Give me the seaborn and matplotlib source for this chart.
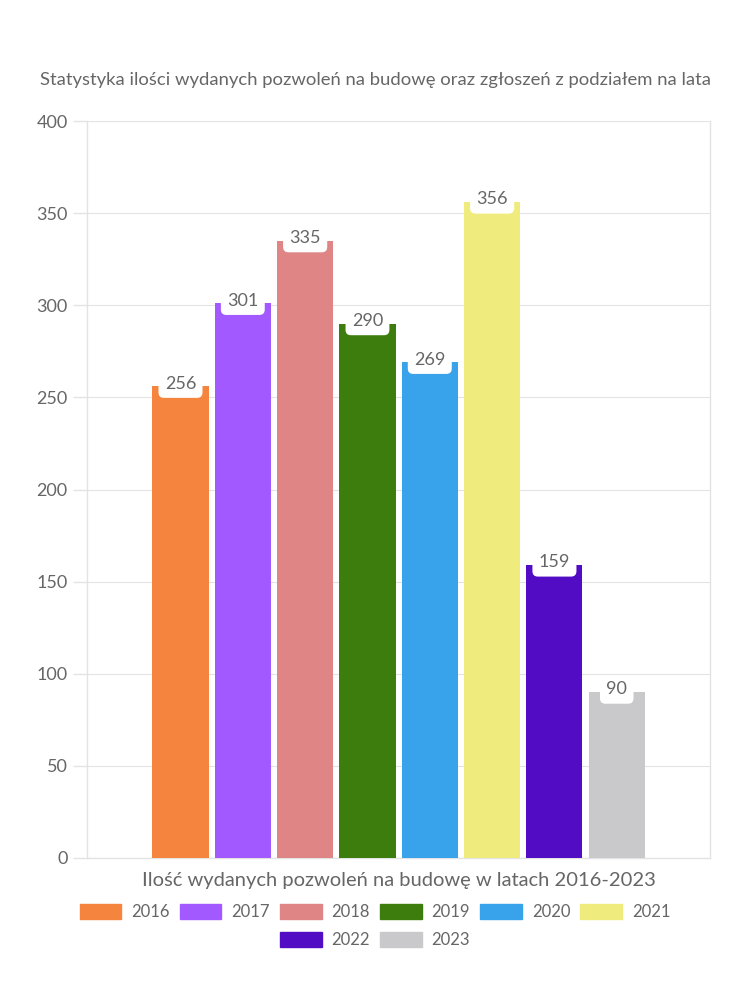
import matplotlib
matplotlib.use("Agg")
import matplotlib.pyplot as plt
import matplotlib.patches as mpatches
import seaborn as sns
import pandas as pd

years = ["2016", "2017", "2018", "2019", "2020", "2021", "2022", "2023"]
values = [256, 301, 335, 290, 269, 356, 159, 90]
colors = ["#F5843F", "#A259FF", "#E08585", "#3C7D0D", "#38A3EB", "#F0EB7D", "#520CC4", "#C9C9CC"]
title = "Statystyka ilości wydanych pozwoleń na budowę oraz zgłoszeń z podziałem na lata"
xlabel = "Ilość wydanych pozwoleń na budowę w latach 2016-2023"
yticks = [0, 50, 100, 150, 200, 250, 300, 350, 400]

sns.set_theme(style="white")
plt.rcParams["font.family"] = ["Lato", "DejaVu Sans"]
TXT = "#666666"
GRID = "#E3E3E3"

df = pd.DataFrame({"group": [""] * len(years), "year": years, "value": values})
palette = dict(zip(years, colors))

fig = plt.figure(figsize=(7.5, 10), dpi=100)
ax = fig.add_axes([0.116, 0.142, 0.831, 0.737])
sns.barplot(data=df, x="group", y="value", hue="year", hue_order=years,
            palette=palette, width=0.80, gap=0.1, legend=False, ax=ax,
            saturation=1, edgecolor="none", linewidth=0, zorder=3)

ax.set_ylim(0, 400)
ax.set_xlim(-0.5, 0.5)
ax.set_yticks(yticks)
ax.set_yticklabels([str(v) for v in yticks], fontsize=13, color=TXT)
ax.set_xticks([])
ax.set_xticks([-0.5, 0.5], minor=True)
ax.tick_params(axis="x", which="minor", length=7, color=GRID, width=1)
ax.tick_params(axis="y", length=10, color=GRID, width=1, pad=4, left=True)
ax.yaxis.grid(True, color=GRID, linewidth=0.8, zorder=0)
ax.set_axisbelow(True)
for s in ["left", "bottom", "right"]:
    ax.spines[s].set_color(GRID)
    ax.spines[s].set_linewidth(1)
ax.spines["top"].set_visible(False)
ax.set_ylabel("")
ax.set_xlabel(xlabel, fontsize=14.5, color=TXT, labelpad=0)

for c in ax.containers:
    for bar in c:
        h = bar.get_height()
        x = bar.get_x() + bar.get_width() / 2
        ax.annotate(f"{int(round(h))}", (x, h), xytext=(0, 2), textcoords="offset points",
                    ha="center", va="center", fontsize=13, color=TXT, zorder=5,
                    bbox=dict(boxstyle="round,pad=0.35,rounding_size=0.3", fc="white", ec="none"))

fig.text(0.5, 0.92, title, ha="center", va="center", fontsize=13.3, color=TXT)

handles = [mpatches.Patch(color=c, label=y) for y, c in zip(years, colors)]
kw = dict(frameon=False, handlelength=2.5, handleheight=1.0, handletextpad=0.6,
          columnspacing=0.6, prop={"size": 12})
leg1 = fig.legend(handles=handles[:6], ncol=6, loc="center", bbox_to_anchor=(0.5, 0.088), **kw)
leg2 = fig.legend(handles=handles[6:], ncol=2, loc="center", bbox_to_anchor=(0.5, 0.06), **kw)
for leg in (leg1, leg2):
    for t in leg.get_texts():
        t.set_color(TXT)

fig.savefig("out.png", dpi=100, facecolor="white")
